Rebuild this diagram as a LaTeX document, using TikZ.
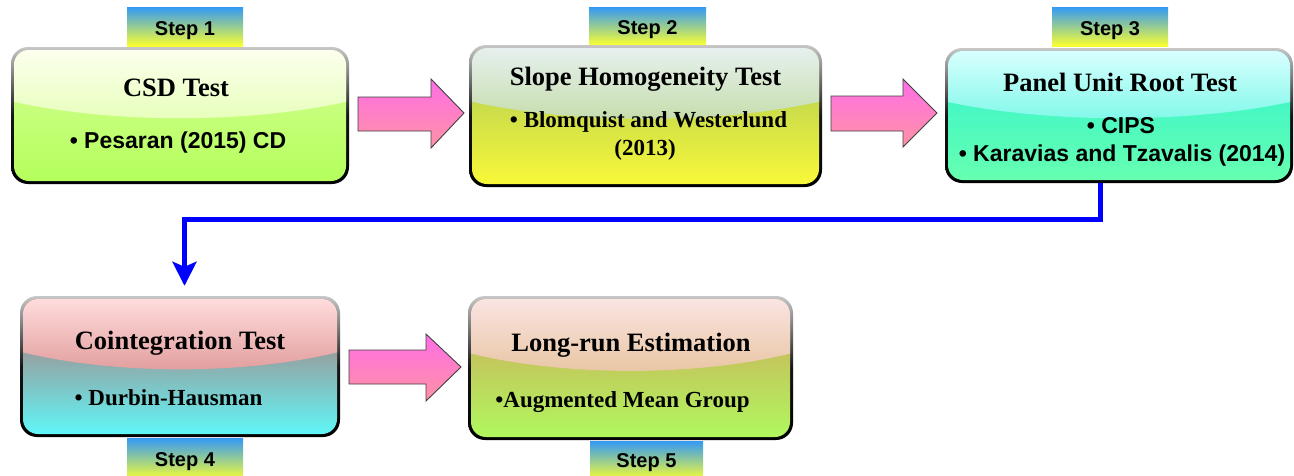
\documentclass[tikz,border=0pt]{standalone}
\usepackage{fontspec}
\setmainfont{Liberation Serif}
\setsansfont{Liberation Sans}
\usetikzlibrary{arrows.meta}
\definecolor{arrtop}{HTML}{FF6EE6}
\definecolor{arrbot}{HTML}{FF92A4}
\definecolor{flowblue}{HTML}{0000FF}
\definecolor{stepblue}{HTML}{3399F5}
\definecolor{stepyellow}{HTML}{FAFF30}
\definecolor{gaA}{HTML}{FCFFEE}\definecolor{gbA}{HTML}{E6FFB8}\definecolor{laA}{HTML}{D6FF96}\definecolor{lbA}{HTML}{B4FF5C}
\definecolor{gaB}{HTML}{E6F0EE}\definecolor{gbB}{HTML}{C4DCA8}\definecolor{laB}{HTML}{A8C858}\definecolor{lbB}{HTML}{F8F838}
\definecolor{gaC}{HTML}{D8FFFF}\definecolor{gbC}{HTML}{7CF8E8}\definecolor{laC}{HTML}{30F2D2}\definecolor{lbC}{HTML}{66FFB0}
\definecolor{gaD}{HTML}{FFDCDC}\definecolor{gbD}{HTML}{E09A9A}\definecolor{laD}{HTML}{B86A6A}\definecolor{lbD}{HTML}{60F6F8}
\definecolor{gaE}{HTML}{FAE4E2}\definecolor{gbE}{HTML}{E8C4A0}\definecolor{laE}{HTML}{D0A45C}\definecolor{lbE}{HTML}{B0F85E}
\tikzset{
  titletext/.style={font=\fontsize{26.5}{30}\selectfont\bfseries, anchor=base, inner sep=0pt},
  itemserif/.style={font=\fontsize{23}{28}\selectfont\bfseries, anchor=base, inner sep=0pt},
  itemsans/.style={font=\sffamily\fontsize{23}{28}\selectfont\bfseries, anchor=base, inner sep=0pt},
  steptext/.style={font=\sffamily\fontsize{20}{22}\selectfont\bfseries, anchor=base, inner sep=0pt},
  stepfill/.style={top color=stepblue, bottom color=stepyellow, draw=none},
  pinkarrow/.style={draw=black!75, line width=0.9pt, top color=arrtop, bottom color=arrbot, line join=miter},
  flow/.style={draw=flowblue, line width=5pt, line join=miter, -{Stealth[length=24pt,width=24pt,inset=5pt]}},
}
% #1 name, #2 x1, #3 y1, #4 x2, #5 y2, #6 gloss top, #7 gloss bottom, #8 lower top, #9 lower bottom
\newcommand\glossbox[9]{%
  \pgfmathsetmacro\gxa{#2+3}\pgfmathsetmacro\gya{#3+3}%
  \pgfmathsetmacro\gxb{#4-3}\pgfmathsetmacro\gyb{#5-3}%
  \pgfmathsetmacro\gys{#3+0.40*(#5-#3)}\pgfmathsetmacro\gyc{#3+0.56*(#5-#3)}%
  \pgfmathsetmacro\gxl{#2+0.3*(#4-#2)}\pgfmathsetmacro\gxr{#4-0.3*(#4-#2)}%
  \pgfmathsetmacro\gw{#4-#2}\pgfmathsetmacro\gh{#5-#3}%
  \pgfmathsetmacro\gcx{(#2+#4)/2}\pgfmathsetmacro\gcy{(#3+#5)/2}%
  \shade[rounded corners=17pt, top color=black!22, bottom color=black, middle color=black!92] (#2,#3) rectangle (#4,#5);
  \shade[rounded corners=15pt, top color=#8, bottom color=#9] (\gxa,\gya) rectangle (\gxb,\gyb);
  \begin{scope}
    \clip[rounded corners=15pt] (\gxa,\gya) rectangle (\gxb,\gyb);
    \shade[top color=#6, bottom color=#7] (\gxa,\gya) -- (\gxb,\gya) -- (\gxb,\gys)
      .. controls (\gxr,\gyc) and (\gxl,\gyc) .. (\gxa,\gys) -- cycle;
  \end{scope}
  \node[inner sep=0pt, minimum width=\gw pt, minimum height=\gh pt] (#1) at (\gcx,\gcy) {};
}
\begin{document}
\begin{tikzpicture}[x=1pt,y=-1pt]
\clip (0,0) rectangle (1294,475);
\fill[white] (0,0) rectangle (1294,475);

% step labels
\shade[stepfill] (127,7) rectangle (243,46);
\node[steptext] (s1) at (185,35) {Step 1};
\shade[stepfill] (589,7) rectangle (706,45);
\node[steptext] (s2) at (647.5,34) {Step 2};
\shade[stepfill] (1052,7) rectangle (1168,46);
\node[steptext] (s3) at (1110,35) {Step 3};
\shade[stepfill] (127,438) rectangle (243,480);
\node[steptext] (s4) at (185,466) {Step 4};
\shade[stepfill] (590,441) rectangle (703,480);
\node[steptext] (s5) at (646.5,467) {Step 5};

% boxes
\glossbox{b1}{11}{47}{349}{184}{gaA}{gbA}{laA}{lbA}
\glossbox{b2}{469}{45}{822}{187}{gaB}{gbB}{laB}{lbB}
\glossbox{b3}{945}{48}{1293}{183}{gaC}{gbC}{laC}{lbC}
\glossbox{b4}{20}{296}{340}{437}{gaD}{gbD}{laD}{lbD}
\glossbox{b5}{468}{296}{793}{440}{gaE}{gbE}{laE}{lbE}

% texts
\node[titletext] (t1) at (176,96) {CSD Test};
\node[itemsans] (i1) at (178,148) {\textbullet\ Pesaran (2015) CD};

\node[titletext] (t2) at (645.5,85) {Slope Homogeneity Test};
\node[itemserif] (i2a) at (648.5,127) {\textbullet\ Blomquist and Westerlund};
\node[itemserif] (i2b) at (645,155) {(2013)};

\node[titletext] (t3) at (1120,91) {Panel Unit Root Test};
\node[itemsans] (i3a) at (1121,133) {\textbullet\ CIPS};
\node[itemsans] (i3b) at (1122,161) {\textbullet\ Karavias and Tzavalis (2014)};

\node[titletext] (t4) at (180,349) {Cointegration Test};
\node[itemserif] (i4) at (168.5,405) {\textbullet\ Durbin-Hausman};

\node[titletext] (t5) at (631,351) {Long-run Estimation};
\node[itemserif] (i5) at (622.5,407) {\textbullet Augmented Mean Group};

% pink block arrows
\draw[pinkarrow] (358,97) -- (431,97) -- (431,79) -- (464,113) -- (431,148) -- (431,131) -- (358,131) -- cycle;
\draw[pinkarrow] (831,96) -- (903,96) -- (903,79) -- (937,113) -- (903,147) -- (903,131) -- (831,131) -- cycle;
\draw[pinkarrow] (349,350) -- (426,350) -- (426,334) -- (461,367) -- (426,401) -- (426,384) -- (349,384) -- cycle;

% blue connector
\coordinate (k1) at (1100,219);
\coordinate (k2) at (184.5,219);
\draw[flow, shorten >=10pt] (b3.south -| k1) -- (k1) -- (k2) -- (b4.north -| k2);
\end{tikzpicture}
\end{document}
